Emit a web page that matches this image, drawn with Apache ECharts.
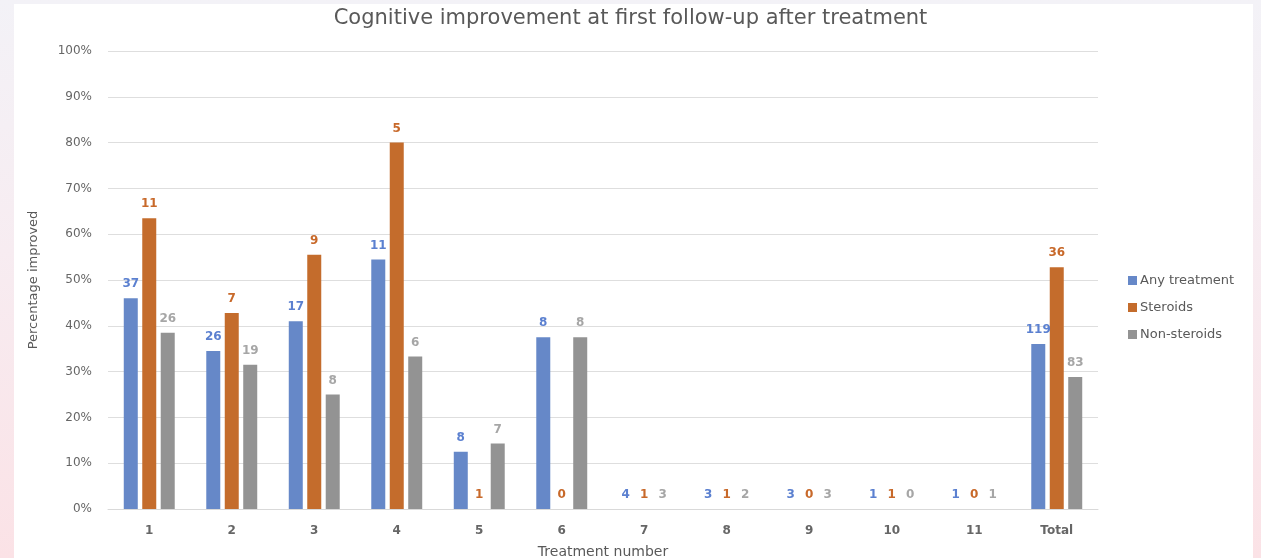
<!DOCTYPE html>
<html>
<head>
<meta charset="utf-8">
<script src="https://cdn.jsdelivr.net/npm/echarts@6/dist/echarts.min.js"></script>
<style>
  html, body { margin: 0; padding: 0; width: 1261px; height: 558px; overflow: hidden;
    background: linear-gradient(to bottom, #f3f2f7 0%, #f7ecf1 45%, #fbe2e6 100%); }
  #panel { position: absolute; left: 14px; top: 4px; width: 1239px; height: 560px; background: #ffffff; }
  #chart { position: absolute; left: 0; top: 0; width: 1261px; height: 558px; }
</style>
</head>
<body>
<div id="panel"></div>
<div id="chart"></div>
<script>
const categories = ['1', '2', '3', '4', '5', '6', '7', '8', '9', '10', '11', 'Total'];
const seriesNames = ['Any treatment', 'Steroids', 'Non-steroids'];
// percentage improved (bar heights)
const anyPct = [46, 34.5, 41, 54.5, 12.5, 37.5, 0, 0, 0, 0, 0, 36];
const steroidPct = [63.5, 42.8, 55.5, 80, 0, 0, 0, 0, 0, 0, 0, 52.8];
const nonSteroidPct = [38.5, 31.5, 25, 33.3, 14.3, 37.5, 0, 0, 0, 0, 0, 28.8];
// counts shown as data labels
const anyN = [37, 26, 17, 11, 8, 8, 4, 3, 3, 1, 1, 119];
const steroidN = [11, 7, 9, 5, 1, 0, 1, 1, 0, 1, 0, 36];
const nonSteroidN = [26, 19, 8, 6, 7, 8, 3, 2, 3, 0, 1, 83];
const yTicks = [0, 10, 20, 30, 40, 50, 60, 70, 80, 90, 100];

const FONT = '"DejaVu Sans", Verdana, sans-serif';
const barColors = ['#6688c8', '#c46c2c', '#939393'];
const labelColors = ['#5b80d0', '#c8692a', '#a6a6a6'];
const pcts = [anyPct, steroidPct, nonSteroidPct];
const counts = [anyN, steroidN, nonSteroidN];

const chart = echarts.init(document.getElementById('chart'), null, { renderer: 'canvas' });
chart.setOption({
  animation: false,
  textStyle: { fontFamily: FONT },
  title: {
    text: 'Cognitive improvement at first follow-up after treatment',
    left: 'center', top: 3,
    textStyle: { fontFamily: FONT, fontSize: 21, fontWeight: 'normal', color: '#595959' }
  },
  legend: {
    orient: 'vertical', left: 1123, top: 269,
    itemWidth: 9, itemHeight: 9, itemGap: 14,
    icon: 'rect',
    data: seriesNames,
    textStyle: { fontFamily: FONT, fontSize: 13, color: '#595959', padding: [0, 0, 0, -2] }
  },
  grid: { left: 108, right: 163, top: 51, bottom: 49, containLabel: false, outerBoundsMode: 'none' },
  xAxis: {
    type: 'category',
    data: categories,
    name: 'Treatment number',
    nameLocation: 'middle',
    nameGap: 36,
    nameTextStyle: { fontFamily: FONT, fontSize: 14, color: '#595959' },
    axisLine: { lineStyle: { color: '#d9d9d9', width: 1 } },
    axisTick: { show: false },
    axisLabel: { fontFamily: FONT, fontSize: 12, fontWeight: 'bold', color: '#666666', margin: 16 }
  },
  yAxis: {
    type: 'value',
    min: yTicks[0], max: yTicks[yTicks.length - 1], interval: 10,
    name: 'Percentage improved',
    nameLocation: 'middle',
    nameGap: 68,
    nameTextStyle: { fontFamily: FONT, fontSize: 13, color: '#595959' },
    axisLine: { show: false },
    axisTick: { show: false },
    splitLine: { lineStyle: { color: '#dedede', width: 1 } },
    axisLabel: { fontFamily: FONT, fontSize: 12, color: '#666666', margin: 16, formatter: v => v + '%' }
  },
  series: seriesNames.map((name, i) => ({
    name: name,
    type: 'bar',
    data: pcts[i],
    barWidth: 14,
    barGap: '32%',
    itemStyle: { color: barColors[i] },
    label: {
      show: true,
      position: 'top',
      distance: 8,
      fontFamily: FONT,
      fontSize: 12,
      fontWeight: 'bold',
      color: labelColors[i],
      formatter: p => String(counts[i][p.dataIndex])
    }
  }))
});
</script>
</body>
</html>
